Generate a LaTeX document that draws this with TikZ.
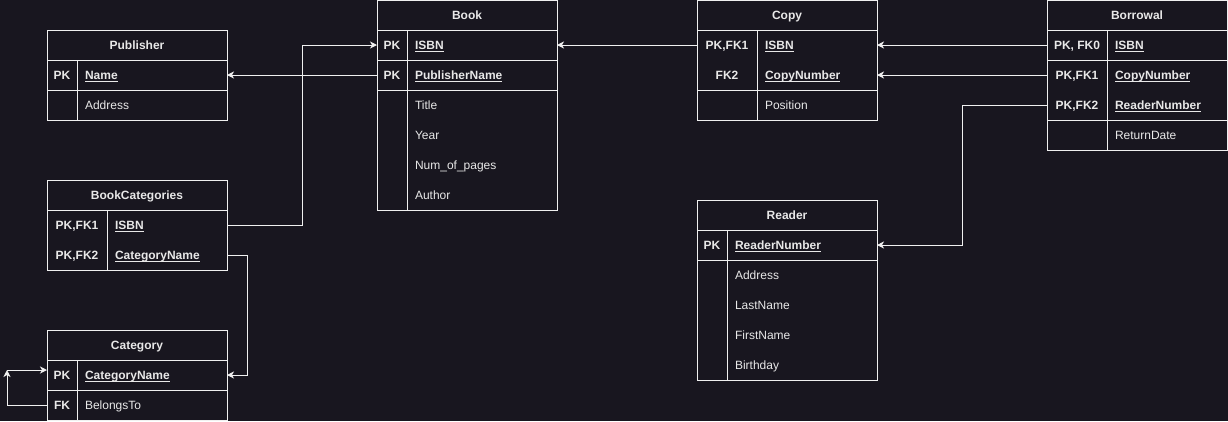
\documentclass[tikz,border=0pt]{standalone}
\usepackage{fontspec}
\setmainfont{Liberation Sans}
\usetikzlibrary{arrows.meta}
\definecolor{bg}{RGB}{24,22,31}
\definecolor{lc}{RGB}{240,240,240}
\definecolor{tc}{RGB}{232,232,232}
\newcommand\keyul[1]{\leavevmode\setbox0\hbox{#1}\rlap{\rule[-2pt]{\wd0}{0.8pt}}\box0}
\begin{document}
\begin{tikzpicture}[x=1pt,y=-1pt,
  every node/.style={text=tc,font=\fontsize{12}{14}\selectfont,text height=10pt,text depth=1.4pt},
  frame/.style={draw=lc,line width=1pt},
  hdr/.style={anchor=north west,minimum width=180pt,minimum height=30pt,inner sep=0pt,outer sep=0pt,font=\fontsize{12}{14}\selectfont\bfseries},
  keyc/.style={anchor=north west,minimum width=#1,minimum height=30pt,inner sep=0pt,outer sep=0pt,font=\fontsize{12}{14}\selectfont\bfseries},
  fld/.style={anchor=north west,text width=#1,minimum height=30pt,inner xsep=8pt,inner ysep=0pt,outer sep=0pt,align=left},
  kfld/.style={fld=#1,font=\fontsize{12}{14}\selectfont\bfseries},
  conn/.style={draw=lc,line width=1pt,-{Stealth[length=7pt,width=7pt,inset=2pt]}}
]
\fill[bg] (0,0) rectangle (1228,421);
\useasboundingbox (0,0) rectangle (1228,421);

% ---------------- Publisher
\node[hdr] (pubH) at (47,30) {Publisher};
\node[keyc=30pt] (pubNameK) at (47,60) {PK};
\node[kfld=134pt] (pubNameF) at (77,60) {\keyul{Name}};
\node[keyc=30pt] (pubAddrK) at (47,90) {};
\node[fld=134pt] (pubAddrF) at (77,90) {Address};
\draw[frame] (pubH.north west) rectangle (pubAddrF.south east);
\draw[frame] (pubH.south west) -- (pubH.south east);
\draw[frame] (pubNameK.south west) -- (pubNameF.south east);
\draw[frame] (pubNameK.north east) -- (pubAddrK.south east);

% ---------------- Book
\node[hdr] (bookH) at (377,0) {Book};
\node[keyc=30pt] (bookIsbnK) at (377,30) {PK};
\node[kfld=134pt] (bookIsbnF) at (407,30) {\keyul{ISBN}};
\node[keyc=30pt] (bookPubK) at (377,60) {PK};
\node[kfld=134pt] (bookPubF) at (407,60) {\keyul{PublisherName}};
\node[fld=134pt] (bookTitle) at (407,90) {Title};
\node[fld=134pt] (bookYear) at (407,120) {Year};
\node[fld=134pt] (bookPages) at (407,150) {Num\_of\_pages};
\node[fld=134pt] (bookAuthor) at (407,180) {Author};
\draw[frame] (bookH.north west) rectangle (bookAuthor.south east);
\draw[frame] (bookH.south west) -- (bookH.south east);
\draw[frame] (bookIsbnK.south west) -- (bookIsbnF.south east);
\draw[frame] (bookPubK.south west) -- (bookPubF.south east);
\draw[frame] (bookIsbnK.north east) -- (bookAuthor.south west);

% ---------------- Copy
\node[hdr] (copyH) at (697,0) {Copy};
\node[keyc=60pt] (copyIsbnK) at (697,30) {PK,FK1};
\node[kfld=104pt] (copyIsbnF) at (757,30) {\keyul{ISBN}};
\node[keyc=60pt] (copyNumK) at (697,60) {FK2};
\node[kfld=104pt] (copyNumF) at (757,60) {\keyul{CopyNumber}};
\node[keyc=60pt] (copyPosK) at (697,90) {};
\node[fld=104pt] (copyPosF) at (757,90) {Position};
\draw[frame] (copyH.north west) rectangle (copyPosF.south east);
\draw[frame] (copyH.south west) -- (copyH.south east);
\draw[frame] (copyNumK.south west) -- (copyNumF.south east);
\draw[frame] (copyIsbnK.north east) -- (copyPosK.south east);

% ---------------- Borrowal
\node[hdr] (borH) at (1047,0) {Borrowal};
\node[keyc=60pt] (borIsbnK) at (1047,30) {PK, FK0};
\node[kfld=104pt] (borIsbnF) at (1107,30) {\keyul{ISBN}};
\node[keyc=60pt] (borNumK) at (1047,60) {PK,FK1};
\node[kfld=104pt] (borNumF) at (1107,60) {\keyul{CopyNumber}};
\node[keyc=60pt] (borRdK) at (1047,90) {PK,FK2};
\node[kfld=104pt] (borRdF) at (1107,90) {\keyul{ReaderNumber}};
\node[keyc=60pt] (borRetK) at (1047,120) {};
\node[fld=104pt] (borRetF) at (1107,120) {ReturnDate};
\draw[frame] (borH.north west) rectangle (borRetF.south east);
\draw[frame] (borH.south west) -- (borH.south east);
\draw[frame] (borIsbnK.south west) -- (borIsbnF.south east);
\draw[frame] (borRdK.south west) -- (borRdF.south east);
\draw[frame] (borIsbnK.north east) -- (borRetK.south east);

% ---------------- BookCategories
\node[hdr] (bcH) at (47,180) {BookCategories};
\node[keyc=60pt] (bcIsbnK) at (47,210) {PK,FK1};
\node[kfld=104pt] (bcIsbnF) at (107,210) {\keyul{ISBN}};
\node[keyc=60pt] (bcCatK) at (47,240) {PK,FK2};
\node[kfld=104pt] (bcCatF) at (107,240) {\keyul{CategoryName}};
\draw[frame] (bcH.north west) rectangle (bcCatF.south east);
\draw[frame] (bcH.south west) -- (bcH.south east);
\draw[frame] (bcIsbnK.north east) -- (bcCatK.south east);

% ---------------- Category
\node[hdr] (catH) at (47,330) {Category};
\node[keyc=30pt] (catPKk) at (47,360) {PK};
\node[kfld=134pt] (catPKf) at (77,360) {\keyul{CategoryName}};
\node[keyc=30pt] (catFKk) at (47,390) {FK};
\node[fld=134pt] (catFKf) at (77,390) {BelongsTo};
\draw[frame] (catH.north west) rectangle (catFKf.south east);
\draw[frame] (catH.south west) -- (catH.south east);
\draw[frame] (catPKk.south west) -- (catPKf.south east);
\draw[frame] (catPKk.north east) -- (catFKk.south east);

% ---------------- Reader
\node[hdr] (rdH) at (697,200) {Reader};
\node[keyc=30pt] (rdNumK) at (697,230) {PK};
\node[kfld=134pt] (rdNumF) at (727,230) {\keyul{ReaderNumber}};
\node[fld=134pt] (rdAddr) at (727,260) {Address};
\node[fld=134pt] (rdLast) at (727,290) {LastName};
\node[fld=134pt] (rdFirst) at (727,320) {FirstName};
\node[fld=134pt] (rdBirth) at (727,350) {Birthday};
\draw[frame] (rdH.north west) rectangle (rdBirth.south east);
\draw[frame] (rdH.south west) -- (rdH.south east);
\draw[frame] (rdNumK.south west) -- (rdNumF.south east);
\draw[frame] (rdNumK.north east) -- (rdBirth.south west);

% ---------------- Connectors
\draw[conn] (bookPubK.west) -- (pubNameF.east);
\draw[conn] (bcIsbnF.east) -- ++(75,0) |- (bookIsbnK.west);
\draw[conn] (bcCatF.east) -- ++(20,0) |- (catPKf.east);
\coordinate (loopc) at (7,370);
\draw[conn] (catFKk.west) -| (loopc);
\draw[conn] (loopc) -- (catPKk.west |- loopc);
\draw[conn] (copyIsbnK.west) -- (bookIsbnF.east);
\draw[conn] (borIsbnK.west) -- (copyIsbnF.east);
\draw[conn] (borNumK.west) -- (copyNumF.east);
\draw[conn] (borRdK.west) -- ++(-85,0) |- (rdNumF.east);
\end{tikzpicture}
\end{document}
